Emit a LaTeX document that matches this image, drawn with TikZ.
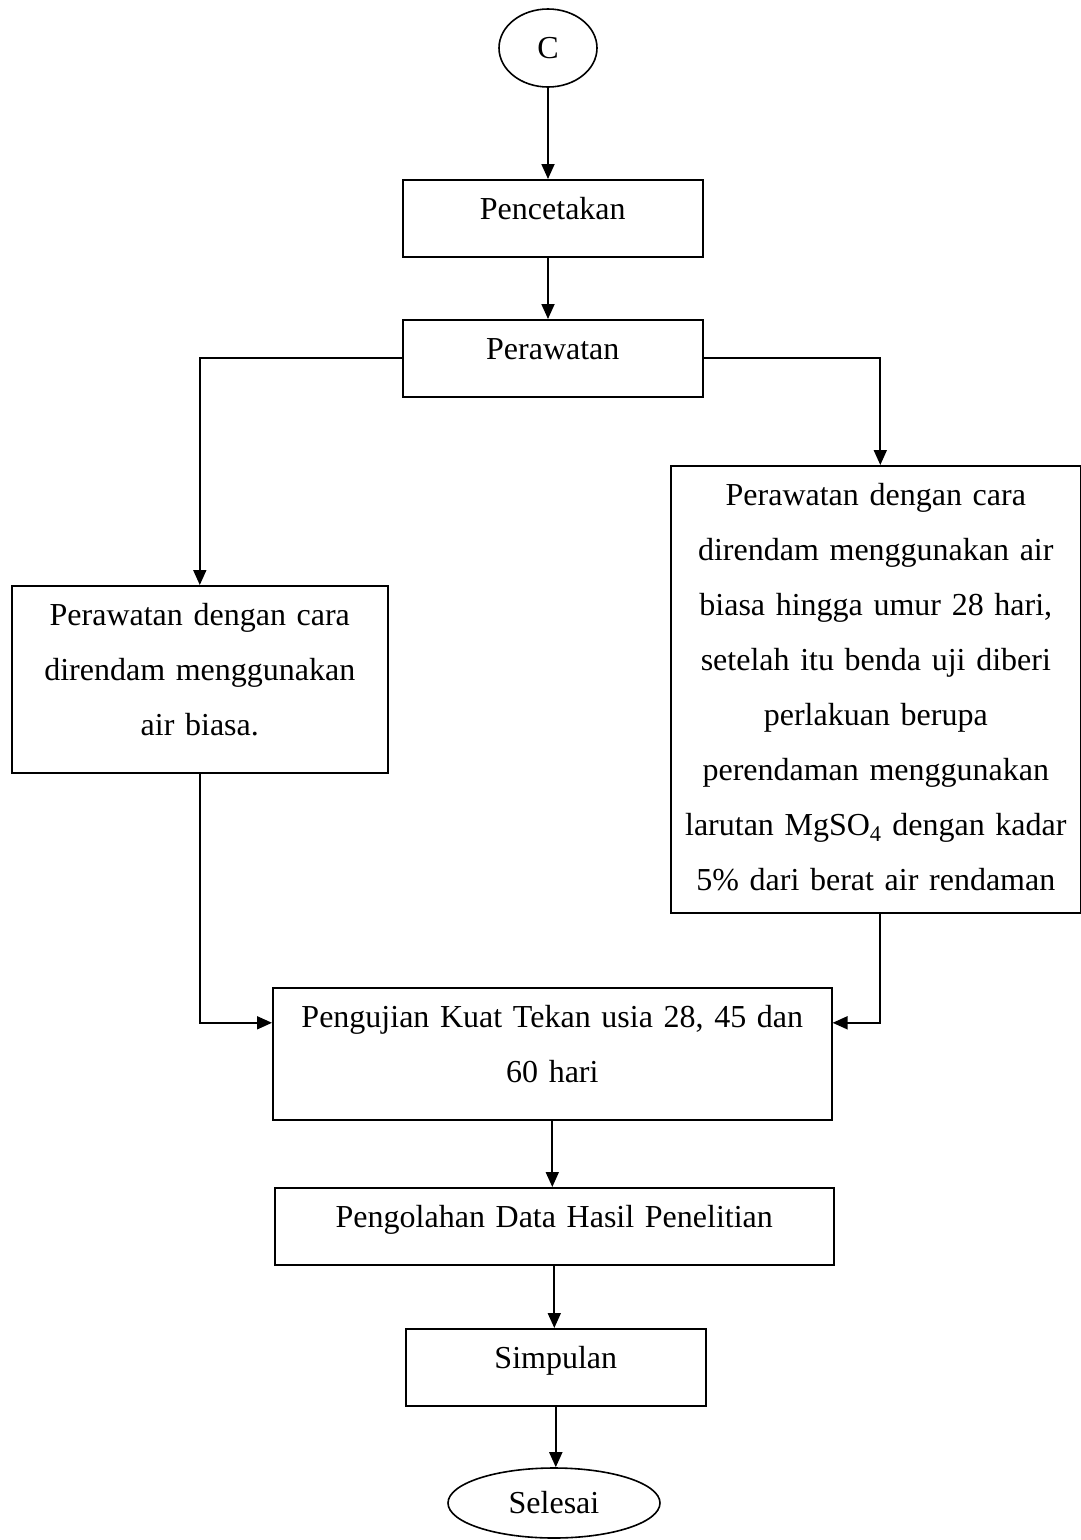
\documentclass[tikz,border=0pt]{standalone}
\usepackage{fontspec}
\setmainfont{Liberation Serif}
\usetikzlibrary{arrows.meta,shapes.geometric}
\newcommand\fsz{\fontsize{32}{55}\selectfont}
\newcommand\mytop{\rule{0pt}{40pt}}
\newcommand\mybot[1][37pt]{\rule[-#1]{0pt}{#1}}
\begin{document}
\begin{tikzpicture}[x=1pt,y=-1pt,
  box/.style={draw,line width=1.6pt,inner sep=0pt,anchor=north west,align=center,font=\fsz},
  oval/.style={draw,ellipse,line width=1.6pt,inner sep=0pt,font=\fsz},
  arr/.style={line width=1.8pt,-{Triangle[length=15pt,width=13pt]}}]
\useasboundingbox[fill=white] (0,0) rectangle (1081,1540);

\node[oval,minimum width=98pt,minimum height=78pt] (c) at (548,48) {C};
\node[box,text width=300pt] (pencetakan) at (402,179) {\mytop Pencetakan\mybot};
\node[box,text width=300pt] (perawatan) at (402,319) {\mytop Perawatan\mybot};
\node[box,text width=376pt] (leftbox) at (11,585)
  {\mytop Perawatan dengan cara\\ direndam menggunakan\\ air biasa.\mybot};
\node[box,text width=410pt] (rightbox) at (670,465)
  {\mytop Perawatan dengan cara\\ direndam menggunakan air\\ biasa hingga umur 28 hari,\\
   setelah itu benda uji diberi\\ perlakuan berupa\\ perendaman menggunakan\\
   larutan MgSO\textsubscript{4} dengan kadar\\ 5\% dari berat air rendaman\mybot[22pt]};
\node[box,text width=559pt] (pengujian) at (272,987)
  {\mytop Pengujian Kuat Tekan usia 28, 45 dan\\ 60 hari\mybot};
\node[box,text width=559pt] (pengolahan) at (274,1187)
  {\mytop Pengolahan Data Hasil Penelitian\mybot};
\node[box,text width=300pt] (simpulan) at (405,1328) {\mytop Simpulan\mybot};
\node[oval,minimum width=212pt,minimum height=70pt] (selesai) at (554,1503) {Selesai};

\draw[arr] (c.south) -- (c.south |- pencetakan.north);
\draw[arr] (c.south |- pencetakan.south) -- (c.south |- perawatan.north);
\draw[arr] (perawatan.west) -| (leftbox.north);
\draw[arr] (perawatan.east) -| ([xshift=4.5pt]rightbox.north);
\draw[arr] (leftbox.south) |- ([yshift=31pt]pengujian.west);
\draw[arr] ([xshift=4.5pt]rightbox.south) |- ([yshift=31pt]pengujian.east);
\draw[arr] (pengujian.south) -- (pengujian.south |- pengolahan.north);
\draw[arr] (pengolahan.south) -- (pengolahan.south |- simpulan.north);
\draw[arr] (simpulan.south) -- (simpulan.south |- selesai.north);
\end{tikzpicture}
\end{document}
